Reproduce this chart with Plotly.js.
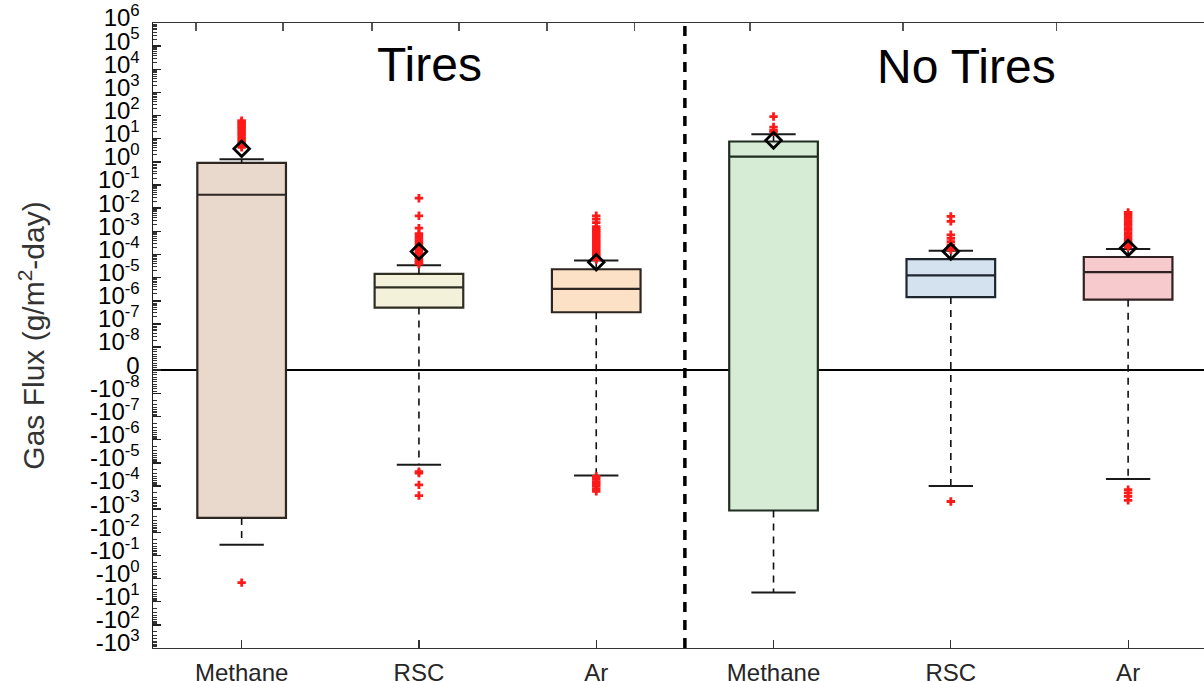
<!DOCTYPE html>
<html>
<head>
<meta charset="utf-8">
<script src="https://cdn.plot.ly/plotly-3.0.1.min.js"></script>
<style>
  html, body { margin: 0; padding: 0; background: #ffffff; overflow: hidden; }
  #chart { width: 1204px; height: 681px; }
</style>
</head>
<body>
<div id="chart"></div>
<script>
// ---------------- data ----------------
const categories = ['Methane', 'RSC', 'Ar', 'Methane', 'RSC', 'Ar'];
const positions = [1, 2, 3, 4, 5, 6];
const groupLabels = ['Tires', 'No Tires'];

const q1Values      = [-0.0024, 5.1e-7, 3.2e-7, -0.00115, 1.45e-6, 1.12e-6];
const medianValues  = [0.038, 3.8e-6, 3.3e-6, 1.7, 1.26e-5, 1.74e-5];
const q3Values      = [0.9, 1.45e-5, 2.3e-5, 7.6, 6.3e-5, 7.8e-5];
const lowerWhiskers = [-0.035, -1.2e-5, -3.5e-5, -4, -1.0e-4, -5.0e-5];
const upperWhiskers = [1.3, 3.4e-5, 5.5e-5, 15.5, 1.45e-4, 1.74e-4];
const meanValues    = [3.7, 1.35e-4, 4.6e-5, 8.5, 1.35e-4, 1.9e-4];

const outliersTiresMethane = [60, 52, 45, 38, 32, 27, 22, 18, 15, 12, 10, 8, 6.5, 5.2, 4.3, -1.5];
const outliersTiresRSC = [0.027, 0.0047, 0.00138, 8e-4, 6.5e-4, 5e-4, 4e-4, 3.2e-4, 2.6e-4, 2e-4, 1.6e-4,
  1.3e-4, 1.1e-4, 9e-5, 7.5e-5, 6.3e-5, 5.3e-5, 4.5e-5, 3.9e-5, -2.4e-5, -2.8e-5, -9e-5, -2.6e-4];
const outliersTiresAr = [4.7e-3, 3.4e-3, 2.4e-3, 1.6e-3, 1.3e-3, 1.1e-3, 9e-4, 7.5e-4, 6.2e-4, 5.2e-4, 4.3e-4,
  3.6e-4, 3e-4, 2.5e-4, 2.1e-4, 1.75e-4, 1.45e-4, 1.2e-4, 1e-4, 8.5e-5, 7e-5, 6e-5,
  -3.9e-5, -5e-5, -6.5e-5, -8e-5, -1e-4, -1.3e-4, -1.7e-4];
const outliersNoTiresMethane = [91, 32, 23, 20];
const outliersNoTiresRSC = [4.4e-3, 2.7e-3, 7.1e-4, 5e-4, 3.6e-4, 2.6e-4, 2e-4, 1.6e-4, -4.7e-4];
const outliersNoTiresAr = [6.6e-3, 5.5e-3, 4.5e-3, 3.6e-3, 2.9e-3, 2.3e-3, 1.8e-3, 1.4e-3, 1.1e-3, 8.5e-4,
  6.7e-4, 5.3e-4, 4.2e-4, 3.3e-4, 2.6e-4, 2.1e-4, -1.45e-4, -2e-4, -2.8e-4, -4.2e-4];
const outlierSets = [outliersTiresMethane, outliersTiresRSC, outliersTiresAr,
  outliersNoTiresMethane, outliersNoTiresRSC, outliersNoTiresAr];

// y tick labels of the signed-log axis (top to bottom)
const yTickLabels = ['10<sup>6</sup>', '10<sup>5</sup>', '10<sup>4</sup>', '10<sup>3</sup>', '10<sup>2</sup>',
  '10<sup>1</sup>', '10<sup>0</sup>', '10<sup>-1</sup>', '10<sup>-2</sup>', '10<sup>-3</sup>', '10<sup>-4</sup>',
  '10<sup>-5</sup>', '10<sup>-6</sup>', '10<sup>-7</sup>', '10<sup>-8</sup>', '0',
  '-10<sup>-8</sup>', '-10<sup>-7</sup>', '-10<sup>-6</sup>', '-10<sup>-5</sup>', '-10<sup>-4</sup>',
  '-10<sup>-3</sup>', '-10<sup>-2</sup>', '-10<sup>-1</sup>', '-10<sup>0</sup>', '-10<sup>1</sup>',
  '-10<sup>2</sup>', '-10<sup>3</sup>'];
const yTickValuesReal = [1e6, 1e5, 1e4, 1e3, 1e2, 1e1, 1, 1e-1, 1e-2, 1e-3, 1e-4, 1e-5, 1e-6, 1e-7, 1e-8, 0,
  -1e-8, -1e-7, -1e-6, -1e-5, -1e-4, -1e-3, -1e-2, -1e-1, -1, -1e1, -1e2, -1e3];

// extra ticks seen on the top frame of the figure
const topFrameTicks = [0.742, 1.233, 1.735, 2.226, 2.722, 3.218, 3.867, 4.730, 5.598];

const fillColors = ['#e9d8cc', '#f4f1da', '#fde1c6', '#d7ecd4', '#d3e2ee', '#f7cbcd'];
const edgeColors = ['#2e2620', '#2e2e22', '#2e2620', '#1f2e20', '#1f2630', '#302222'];

// ---------------- signed log transform ----------------
const LIN = 1e-8;
function T(v) {
  if (v === null) return null;
  if (v === 0) return 0;
  const a = Math.abs(v);
  const p = a >= LIN ? Math.log10(a) - Math.log10(LIN) + 1 : a / LIN;
  return v > 0 ? p : -p;
}

const traces = [];
// boxes
for (let i = 0; i < positions.length; i++) {
  traces.push({
    type: 'box', x: [positions[i]],
    q1: [T(q1Values[i])], median: [T(medianValues[i])], q3: [T(q3Values[i])],
    lowerfence: [T(q1Values[i])], upperfence: [T(q3Values[i])],
    width: 0.5, whiskerwidth: 0,
    fillcolor: fillColors[i], line: { color: edgeColors[i], width: 2.2 },
    boxpoints: false, hoverinfo: 'skip', showlegend: false, xaxis: 'x', yaxis: 'y'
  });
}
// dashed whiskers
const wx = [], wy = [];
const cx = [], cy = [];
const capHalf = 0.125;
for (let i = 0; i < positions.length; i++) {
  wx.push(positions[i], positions[i], null, positions[i], positions[i], null);
  wy.push(T(q3Values[i]), T(upperWhiskers[i]), null, T(q1Values[i]), T(lowerWhiskers[i]), null);
  cx.push(positions[i] - capHalf, positions[i] + capHalf, null, positions[i] - capHalf, positions[i] + capHalf, null);
  cy.push(T(upperWhiskers[i]), T(upperWhiskers[i]), null, T(lowerWhiskers[i]), T(lowerWhiskers[i]), null);
}
traces.push({ type: 'scatter', mode: 'lines', x: wx, y: wy, line: { color: '#111', width: 1.6, dash: '7px,6px' },
  hoverinfo: 'skip', showlegend: false, connectgaps: false });
traces.push({ type: 'scatter', mode: 'lines', x: cx, y: cy, line: { color: '#1a1a1a', width: 2 },
  hoverinfo: 'skip', showlegend: false, connectgaps: false });
// outliers
const ox = [], oy = [];
for (let i = 0; i < positions.length; i++) {
  outlierSets[i].forEach(v => { ox.push(positions[i]); oy.push(T(v)); });
}
traces.push({ type: 'scatter', mode: 'markers', x: ox, y: oy,
  marker: { symbol: 'cross', color: '#ff1a1a', size: 7, line: { width: 0 } },
  hoverinfo: 'skip', showlegend: false });
// means
traces.push({ type: 'scatter', mode: 'markers', x: positions, y: meanValues.map(T),
  marker: { symbol: 'diamond-open', color: '#000', size: 12, line: { width: 2.8, color: '#000' } },
  hoverinfo: 'skip', showlegend: false });
// top frame (second x axis, no labels)
traces.push({ type: 'scatter', mode: 'markers', x: [1], y: [0], xaxis: 'x2', yaxis: 'y',
  marker: { opacity: 0 }, hoverinfo: 'skip', showlegend: false });

// minor ticks: log-spaced inside each decade
const minorVals = [];
for (let d = 1; d < 15; d++) {
  for (let m = 2; m <= 9; m++) {
    minorVals.push(d + Math.log10(m));
    if (d < 12) minorVals.push(-(d + Math.log10(m)));
  }
}
for (let k = 1; k < 10; k++) { minorVals.push(k / 10); minorVals.push(-k / 10); }

const xRange = [0.5, 6.428];
const layout = {
  width: 1204, height: 681,
  margin: { l: 153, r: 0, t: 23, b: 33, pad: 0 },
  paper_bgcolor: '#ffffff', plot_bgcolor: '#ffffff',
  font: { family: '"Liberation Sans", Arial, Helvetica, sans-serif', color: '#000' },
  showlegend: false,
  boxmode: 'overlay',
  xaxis: {
    range: xRange, tickmode: 'array', tickvals: positions, ticktext: categories,
    ticks: 'inside', ticklen: 8, tickwidth: 1.2, tickcolor: '#333',
    showline: true, linecolor: '#333', linewidth: 1.2, mirror: false,
    showgrid: false, zeroline: false,
    tickfont: { size: 24, color: '#262626' }, ticklabelstandoff: 3
  },
  xaxis2: {
    range: xRange, overlaying: 'x', side: 'top', tickmode: 'array', tickvals: topFrameTicks,
    ticks: 'inside', ticklen: 8, tickwidth: 1.2, tickcolor: '#555', showticklabels: false,
    showline: true, linecolor: '#333', linewidth: 1.2, showgrid: false, zeroline: false
  },
  yaxis: {
    range: [T(-1e3), T(1e6)],
    tickmode: 'array', tickvals: yTickValuesReal.map(T), ticktext: yTickLabels,
    ticks: 'inside', ticklen: 8, tickwidth: 1.5, tickcolor: '#222',
    minor: { tickmode: 'array', tickvals: minorVals, ticks: 'inside', ticklen: 4, tickwidth: 1, tickcolor: '#333' },
    showline: true, linecolor: '#222', linewidth: 1.5, mirror: false,
    showgrid: false,
    zeroline: true, zerolinecolor: '#000', zerolinewidth: 2.2,
    tickfont: { size: 24, color: '#000' }, ticklabelstandoff: 7, ticklabelshift: -5,
    title: { text: 'Gas Flux (g/m<sup>2</sup>-day)', font: { size: 30, color: '#333' }, standoff: 36 }
  },
  shapes: [
    { type: 'line', xref: 'x', yref: 'paper', x0: 3.5, x1: 3.5, y0: 0, y1: 1,
      line: { color: '#000', width: 3.5, dash: '10px,8px' } }
  ],
  annotations: [
    { text: groupLabels[0], xref: 'x', yref: 'y', x: 2.06, y: 13.2, showarrow: false,
      font: { size: 48, color: '#000' }, xanchor: 'center', yanchor: 'middle' },
    { text: groupLabels[1], xref: 'x', yref: 'y', x: 5.09, y: 13.1, showarrow: false,
      font: { size: 48, color: '#000' }, xanchor: 'center', yanchor: 'middle' }
  ]
};

Plotly.newPlot('chart', traces, layout, { displayModeBar: false, staticPlot: true });
</script>
</body>
</html>
